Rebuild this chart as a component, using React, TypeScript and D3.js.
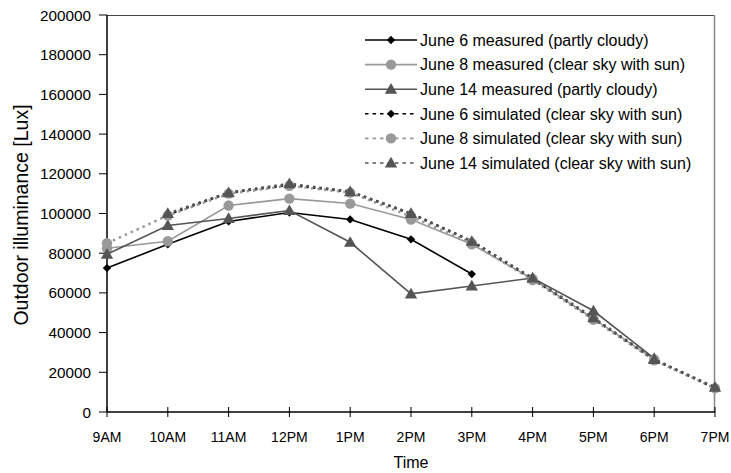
import React from "react";
import * as d3 from "d3";

const hours = ["9AM", "10AM", "11AM", "12PM", "1PM", "2PM", "3PM", "4PM", "5PM", "6PM", "7PM"];
const yTicks = [0, 20000, 40000, 60000, 80000, 100000, 120000, 140000, 160000, 180000, 200000];

const june6Measured = [72500, 84500, 96000, 100500, 97000, 87000, 69500, null, null, null, null];
const june8Measured = [82500, 86000, 104000, 107500, 105000, 97000, 84500, 67000, 47000, 26500, null];
const june14Measured = [79500, 94000, 97500, 101500, 85500, 59500, 63500, 67500, 51000, 27000, null];
const june6Simulated = [null, 99500, 110500, 114500, 111000, 100000, 86000, 67000, 47000, 26500, 12000];
const june8Simulated = [85000, 99000, 110000, 114000, 110500, 98500, 85000, 66500, 46500, 26000, 12000];
const june14Simulated = [null, 100000, 110500, 115000, 111000, 100000, 86000, 67500, 47500, 26500, 12500];

type Marker = "diamond" | "circle" | "triangle";
interface Series {
  name: string;
  values: (number | null)[];
  color: string;
  marker: Marker;
  dashed: boolean;
}

const series: Series[] = [
  { name: "June 6 measured (partly cloudy)", values: june6Measured, color: "#000000", marker: "diamond", dashed: false },
  { name: "June 8 measured (clear sky with sun)", values: june8Measured, color: "#999999", marker: "circle", dashed: false },
  { name: "June 14 measured (partly cloudy)", values: june14Measured, color: "#555555", marker: "triangle", dashed: false },
  { name: "June 6 simulated (clear sky with sun)", values: june6Simulated, color: "#000000", marker: "diamond", dashed: true },
  { name: "June 8 simulated (clear sky with sun)", values: june8Simulated, color: "#999999", marker: "circle", dashed: true },
  { name: "June 14 simulated (clear sky with sun)", values: june14Simulated, color: "#555555", marker: "triangle", dashed: true },
];

const FONT = "Arial, 'Liberation Sans', sans-serif";

function MarkerShape({ type, x, y, color }: { type: Marker; x: number; y: number; color: string }) {
  if (type === "diamond") {
    const p = d3.symbol().type(d3.symbolDiamond2).size(44)();
    return <path d={p || ""} transform={`translate(${x},${y})`} fill={color} />;
  }
  if (type === "circle") {
    return <circle cx={x} cy={y} r={5.2} fill={color} />;
  }
  const p = d3.symbol().type(d3.symbolTriangle).size(66)();
  return <path d={p || ""} transform={`translate(${x},${y + 1})`} fill={color} />;
}

export default function App() {
  const width = 731;
  const height = 473;
  const left = 107;
  const right = 715;
  const top = 15;
  const bottom = 412;

  const x = d3.scalePoint<string>().domain(hours).range([left, right]);
  const y = d3.scaleLinear().domain([0, 200000]).range([bottom, top]);

  const lineGen = d3
    .line<number | null>()
    .defined((d) => d !== null)
    .x((_, i) => x(hours[i]) as number)
    .y((d) => y(d as number));

  const legendX = 365;
  const legendY0 = 40;
  const legendStep = 24.6;

  return (
    <div style={{ position: "fixed", left: 0, top: 0, width, height, overflow: "hidden" }}>
      <svg width={width} height={height} style={{ display: "block", background: "#fff" }}>
        {/* plot border */}
        <line x1={left} x2={right} y1={top + 0.5} y2={top + 0.5} stroke="#444" strokeWidth={1} />
        <line x1={right - 0.5} x2={right - 0.5} y1={top} y2={bottom} stroke="#888" strokeWidth={1.5} />

        {/* y axis */}
        <line x1={left} x2={left} y1={top} y2={bottom} stroke="#000" strokeWidth={1.5} />
        {yTicks.map((t) => (
          <g key={t}>
            <line x1={left - 8} x2={left} y1={y(t)} y2={y(t)} stroke="#000" strokeWidth={1} />
            <text x={91} y={y(t)} dy="0.36em" textAnchor="end" fontFamily={FONT} fontSize={15.3} fill="#000">
              {t}
            </text>
          </g>
        ))}

        {/* x axis */}
        <line x1={left} x2={right} y1={bottom} y2={bottom} stroke="#000" strokeWidth={1.5} />
        {hours.map((h) => (
          <g key={h}>
            <line x1={x(h)} x2={x(h)} y1={bottom - 5} y2={bottom + 5} stroke="#000" strokeWidth={1} />
            <text x={x(h)} y={441.5} textAnchor="middle" fontFamily={FONT} fontSize={14} fill="#000">
              {h}
            </text>
          </g>
        ))}

        <text x={411} y={468} textAnchor="middle" fontFamily={FONT} fontSize={16} fill="#000">
          Time
        </text>
        <text
          transform={`translate(28,215) rotate(-90)`}
          textAnchor="middle"
          fontFamily={FONT}
          fontSize={19.5}
          fill="#000"
        >
          Outdoor illuminance [Lux]
        </text>

        {/* series */}
        {series.map((s) => (
          <g key={s.name}>
            <path
              d={lineGen(s.values) || ""}
              fill="none"
              stroke={s.color}
              strokeWidth={s.dashed ? 2.5 : 1.6}
              strokeDasharray={s.dashed ? "2.5,4" : undefined}
            />
            {s.values.map((v, i) =>
              v === null ? null : (
                <MarkerShape key={i} type={s.marker} x={x(hours[i]) as number} y={y(v)} color={s.color} />
              )
            )}
          </g>
        ))}

        {/* legend */}
        {series.map((s, i) => {
          const ly = legendY0 + i * legendStep;
          return (
            <g key={s.name}>
              <line
                x1={legendX}
                x2={legendX + 52}
                y1={ly}
                y2={ly}
                stroke={s.color}
                strokeWidth={1.6}
                strokeDasharray={s.dashed ? "3.5,4" : undefined}
              />
              <MarkerShape type={s.marker} x={legendX + 26} y={ly} color={s.color} />
              <text x={legendX + 55} y={ly} dy="0.36em" fontFamily={FONT} fontSize={16} fill="#000">
                {s.name}
              </text>
            </g>
          );
        })}
      </svg>
    </div>
  );
}
